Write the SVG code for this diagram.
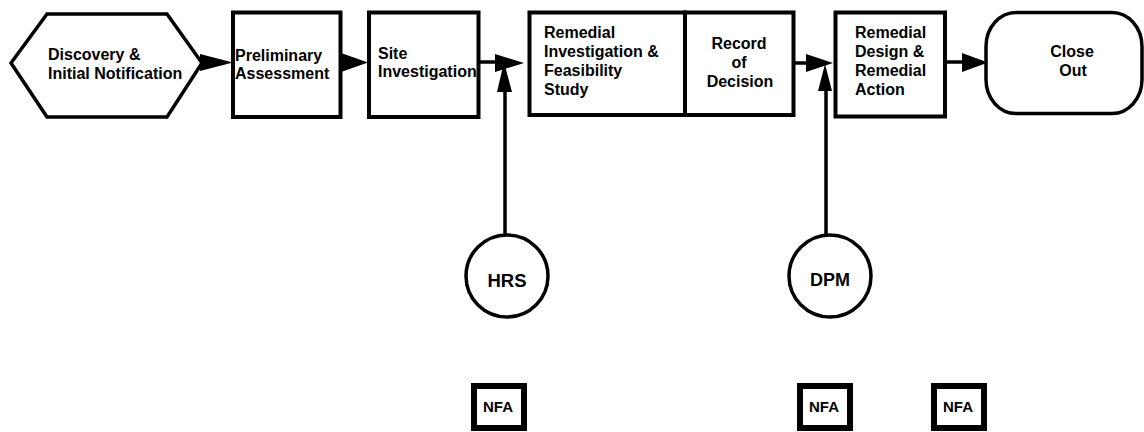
<svg xmlns="http://www.w3.org/2000/svg" width="1144" height="432" viewBox="0 0 1144 432">
<style>
.s{fill:#fff;stroke:#000;stroke-width:4}
.n{fill:#fff;stroke:#000;stroke-width:6}
.c{fill:#fff;stroke:#000;stroke-width:3.5}
.t{font-family:"Liberation Sans",Arial,Helvetica,sans-serif;font-weight:bold;font-size:16px;fill:#000}
.m{text-anchor:middle}
.f{font-size:15px;text-anchor:middle}
.l{stroke:#000;stroke-width:3.5;fill:none}
.h{fill:#000;stroke:none}
</style>
<rect x="0" y="0" width="1144" height="432" fill="#fff"/>
<g id="discovery">
<polygon class="c" points="11,63 47,14 167,14 202,63 167,117 47,117"/>
<text class="t" x="48" y="60">Discovery &amp;</text>
<text class="t" x="48" y="79">Initial Notification</text>
</g>
<g id="preliminary">
<rect class="s" x="233" y="12.5" width="107.5" height="104.5"/>
<text class="t" x="235" y="61">Preliminary</text>
<text class="t" x="235" y="79">Assessment</text>
</g>
<g id="site">
<rect class="s" x="369" y="12.5" width="109.5" height="104.5"/>
<text class="t" x="378" y="59">Site</text>
<text class="t" x="378" y="77">Investigation</text>
</g>
<g id="rifs">
<rect class="s" x="529.5" y="12.5" width="155.5" height="102.5"/>
<text class="t" x="544" y="38">Remedial</text>
<text class="t" x="544" y="57">Investigation &amp;</text>
<text class="t" x="544" y="76">Feasibility</text>
<text class="t" x="544" y="95">Study</text>
</g>
<g id="rod">
<rect class="s" x="685" y="12.5" width="108.5" height="102.5"/>
<text class="t m" x="739" y="49">Record</text>
<text class="t m" x="739" y="68">of</text>
<text class="t m" x="740" y="87">Decision</text>
</g>
<g id="rdra">
<rect class="s" x="835.5" y="12.5" width="109.5" height="104"/>
<text class="t" x="855" y="38">Remedial</text>
<text class="t" x="855" y="57">Design &amp;</text>
<text class="t" x="855" y="76">Remedial</text>
<text class="t" x="855" y="95">Action</text>
</g>
<g id="closeout">
<rect class="c" x="986" y="12.5" width="156" height="101" rx="30" ry="34"/>
<text class="t m" x="1072" y="57">Close</text>
<text class="t m" x="1073" y="76">Out</text>
</g>
<g id="hrs">
<circle class="c" cx="507" cy="276" r="41"/>
<text class="t m" x="507" y="287" style="font-size:18.5px">HRS</text>
</g>
<g id="dpm">
<circle class="c" cx="830" cy="276" r="41"/>
<text class="t m" x="830" y="286" style="font-size:18px">DPM</text>
</g>
<g id="nfa1">
<rect class="n" x="474" y="386" width="50" height="42"/>
<text class="t f" x="498" y="412">NFA</text>
</g>
<g id="nfa2">
<rect class="n" x="800" y="386" width="50" height="42"/>
<text class="t f" x="824" y="412">NFA</text>
</g>
<g id="nfa3">
<rect class="n" x="934" y="386" width="50" height="42"/>
<text class="t f" x="958" y="412">NFA</text>
</g>
<g id="connectors">
<polygon class="h" points="200,54 233,62.5 200,71"/>
<polygon class="h" points="341,53 368,62.5 341,72"/>
<line class="l" x1="478" y1="62" x2="497" y2="62"/>
<polygon class="h" points="495,54 524,63 495,72"/>
<line class="l" x1="505" y1="235" x2="505" y2="88"/>
<polygon class="h" points="497,92 504,62 512,92"/>
<line class="l" x1="793" y1="63" x2="808" y2="63"/>
<polygon class="h" points="806,54 833,63 806,72"/>
<line class="l" x1="826" y1="235" x2="826" y2="86"/>
<polygon class="h" points="818,91 825,64 832,91"/>
<line class="l" x1="945" y1="62" x2="964" y2="62"/>
<polygon class="h" points="962,53 988,62.5 962,72"/>
</g>
</svg>
